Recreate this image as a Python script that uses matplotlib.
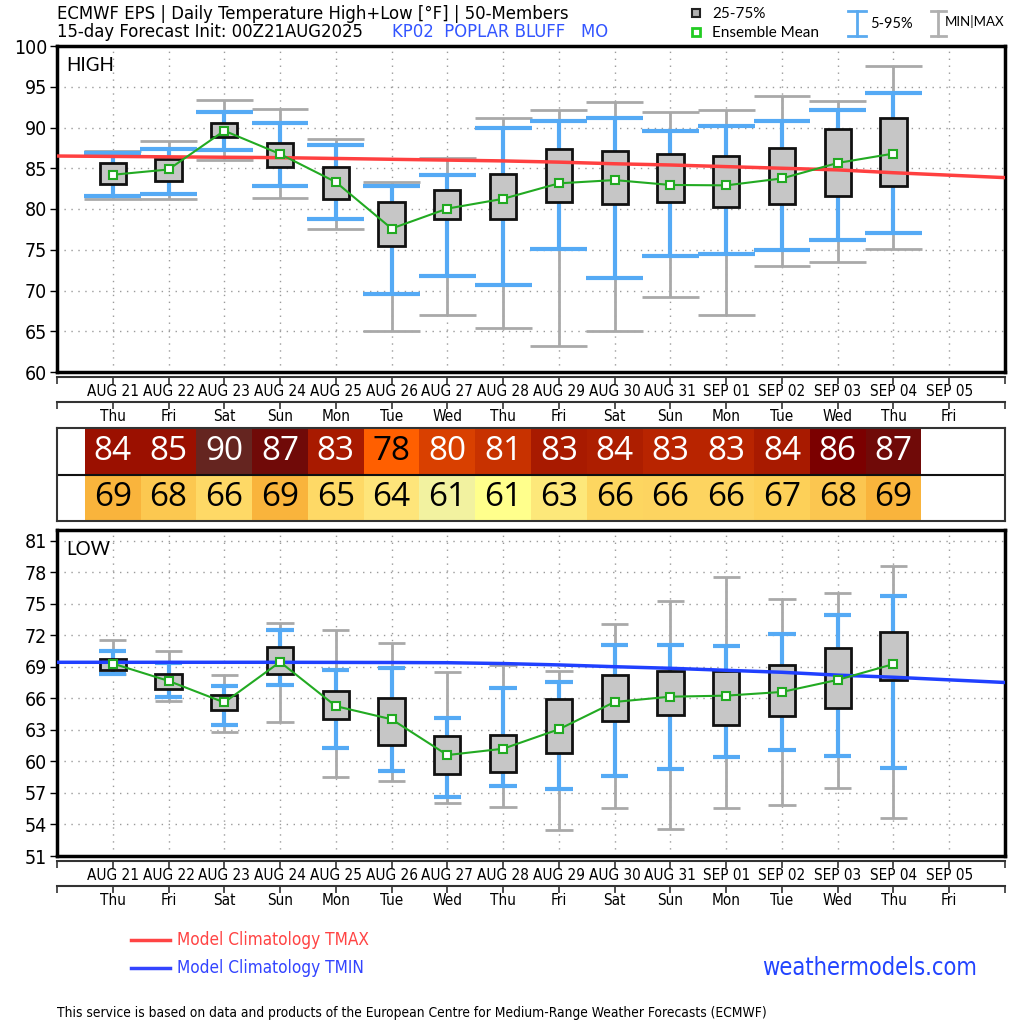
import matplotlib
matplotlib.use('Agg')
import matplotlib.pyplot as plt
import numpy as np
from matplotlib import font_manager
from matplotlib.font_manager import FontProperties
from matplotlib.patches import Rectangle

# --- data --------------------------------------------------------------------
dates = ['AUG 21', 'AUG 22', 'AUG 23', 'AUG 24', 'AUG 25', 'AUG 26', 'AUG 27', 'AUG 28',
         'AUG 29', 'AUG 30', 'AUG 31', 'SEP 01', 'SEP 02', 'SEP 03', 'SEP 04', 'SEP 05']
weekdays = ['Thu', 'Fri', 'Sat', 'Sun', 'Mon', 'Tue', 'Wed', 'Thu',
            'Fri', 'Sat', 'Sun', 'Mon', 'Tue', 'Wed', 'Thu', 'Fri']

# daily high temperature (15 forecast days)
hi_min = [81.2, 81.2, 86.0, 81.4, 77.6, 65.0, 67.0, 65.4, 63.25, 65.0, 69.25, 67.05, 73.05, 73.55, 75.15]
hi_p05 = [81.6, 81.85, 87.3, 82.85, 78.75, 69.6, 71.8, 70.65, 75.1, 71.5, 74.25, 74.45, 75.0, 76.15, 77.1]
hi_p25 = [83.1, 83.4, 88.8, 85.1, 81.2, 75.5, 78.8, 78.8, 80.8, 80.6, 80.8, 80.25, 80.6, 81.6, 82.8]
hi_mean = [84.2, 84.85, 89.6, 86.75, 83.3, 77.6, 80.05, 81.25, 83.15, 83.55, 82.95, 82.9, 83.75, 85.65, 86.8]
hi_p75 = [85.6, 86.15, 90.5, 88.15, 85.15, 80.8, 82.35, 84.35, 87.4, 87.15, 86.7, 86.55, 87.45, 89.8, 91.15]
hi_p95 = [86.9, 87.4, 91.95, 90.6, 87.85, 82.8, 84.15, 89.95, 90.8, 91.15, 89.6, 90.15, 90.85, 92.1, 94.25]
hi_max = [87.1, 88.3, 93.4, 92.25, 88.65, 83.3, 86.3, 91.15, 92.2, 93.1, 91.85, 92.1, 93.85, 93.2, 97.55]

# daily low temperature
lo_min = [68.3, 65.75, 62.75, 63.75, 58.5, 58.15, 56.05, 55.7, 53.5, 55.55, 53.55, 55.55, 55.85, 57.45, 54.6]
lo_p05 = [68.35, 66.1, 63.5, 67.25, 61.25, 59.05, 56.65, 57.65, 57.35, 58.6, 59.3, 60.4, 61.1, 60.55, 59.35]
lo_p25 = [68.7, 66.9, 64.9, 68.3, 64.0, 61.55, 58.8, 58.95, 60.8, 63.85, 64.45, 63.5, 64.3, 65.1, 67.75]
lo_mean = [69.3, 67.65, 65.6, 69.45, 65.25, 64.0, 60.6, 61.2, 63.05, 65.65, 66.15, 66.25, 66.6, 67.75, 69.25]
lo_p75 = [69.75, 68.3, 66.35, 70.85, 66.7, 66.0, 62.4, 62.55, 65.95, 68.25, 68.6, 68.6, 69.2, 70.75, 72.3]
lo_p95 = [70.5, 69.4, 67.15, 72.5, 68.7, 68.9, 64.1, 66.95, 67.55, 71.1, 71.1, 71.0, 72.1, 73.95, 75.7]
lo_max = [71.5, 70.45, 68.2, 73.2, 72.45, 71.3, 68.45, 69.2, 68.55, 73.05, 75.25, 77.55, 75.4, 76.0, 78.6]

# model climatology, day -1 .. 16 (full width of the panel)
clim_tmax = [86.5, 86.45, 86.4, 86.35, 86.3, 86.2, 86.1, 86.0, 85.9, 85.75, 85.55, 85.4,
             85.2, 85.0, 84.8, 84.45, 84.15, 83.85]
clim_tmin = [69.42, 69.42, 69.42, 69.42, 69.42, 69.41, 69.4, 69.38, 69.3, 69.17, 69.0, 68.85,
             68.66, 68.47, 68.2, 68.0, 67.75, 67.5]

# summary table
tbl_high = [84, 85, 90, 87, 83, 78, 80, 81, 83, 84, 83, 83, 84, 86, 87]
tbl_low = [69, 68, 66, 69, 65, 64, 61, 61, 63, 66, 66, 66, 67, 68, 69]

# table cell colours
high_colors = ['#9b1000', '#9b1000', '#652520', '#700a08', '#a81a00', '#ff5f00', '#d94000', '#c83200',
               '#a81a00', '#ad1e00', '#b82400', '#b82400', '#a81a00', '#7b0000', '#700a08']
high_text = ['white'] * 5 + ['black'] + ['white'] * 9
low_colors = ['#f9b43c', '#fcc850', '#fed966', '#f9b43c', '#fed966', '#fee57a', '#f2f2a0', '#ffff8c',
              '#fde87a', '#fdd660', '#fdd460', '#fdd460', '#fdd058', '#fbc650', '#f9b43c']


# --- fonts ---------------------------------------------------------------------
def find_narrow():
    for f in font_manager.fontManager.ttflist:
        if f.fname.endswith('DejaVuSansCondensed.ttf'):
            return f.fname
    for f in font_manager.fontManager.ttflist:
        if 'LiberationSansNarrow-Regular' in f.fname:
            return f.fname
    return None


NARROW = find_narrow()


def nfont(size):
    if NARROW:
        return FontProperties(fname=NARROW, size=size)
    return FontProperties(family='DejaVu Sans', size=size * 0.9)


def wfont(size, family='Lato'):
    return FontProperties(family=[family, 'DejaVu Sans'], size=size)


W = 1024.0
fig = plt.figure(figsize=(10.24, 10.24), dpi=100)


def px_axes(left, top, right, bottom, **kw):
    return fig.add_axes([left / W, 1 - bottom / W, (right - left) / W, (bottom - top) / W], **kw)


x = np.arange(len(hi_mean))
clim_x = np.arange(-1, 17)
XL, XR = 57, 1005


def draw_panel(top, bottom, ylim, yticks, lows, p05, p25, mean, p75, p95, highs,
               clim, clim_color, cap_w, label):
    ax = px_axes(XL, top, XR, bottom)
    ax.set_xlim(-1, 16)
    ax.set_ylim(*ylim)
    ax.set_xticks(np.arange(16))
    ax.tick_params(axis='x', length=0, labelbottom=False)
    ax.set_yticks(yticks)
    ax.tick_params(axis='y', direction='out', length=5, width=1, pad=2)
    for lab in ax.get_yticklabels():
        lab.set_fontproperties(nfont(14))
    ax.grid(True, color='#9a9a9a', linestyle=(0, (1, 4)), linewidth=1)
    ax.set_axisbelow(True)
    for sp in ax.spines.values():
        sp.set_linewidth(2.5)

    ax.vlines(x, lows, highs, color='#a9a9a9', lw=2, zorder=2)
    ax.hlines(lows, x - cap_w / 2, x + cap_w / 2, color='#a9a9a9', lw=2, zorder=2)
    ax.hlines(highs, x - cap_w / 2, x + cap_w / 2, color='#a9a9a9', lw=2, zorder=2)
    ax.vlines(x, p05, p95, color='#55aaf5', lw=3, zorder=3)
    ax.hlines(p05, x - cap_w / 2, x + cap_w / 2, color='#55aaf5', lw=3, zorder=3)
    ax.hlines(p95, x - cap_w / 2, x + cap_w / 2, color='#55aaf5', lw=3, zorder=3)
    box_h = np.array(p75) - np.array(p25)
    ax.bar(x, box_h, bottom=p25, width=0.47, color='#c6c6c6', edgecolor='#111111',
           linewidth=2, zorder=4)
    ax.plot(clim_x, clim, color=clim_color, lw=2.5, zorder=5)
    ax.plot(x, mean, color='#22aa22', lw=1.5, marker='s', ms=6, mfc='white',
            mec='#22aa22', mew=1.5, zorder=6)
    ax.text(0.01, 0.94, label, transform=ax.transAxes, ha='left', va='center',
            fontproperties=wfont(13.5))
    return ax


def date_axes(y):
    # two rows: dates, then weekdays, each with a tick line above
    for off, labels in [(0, dates), (25, weekdays)]:
        ax = px_axes(XL, y + off, XR, y + off + 4)
        ax.set_xlim(-1, 16)
        ax.set_ylim(0, 1)
        ax.set_xticks(np.arange(-1, 17))
        ax.set_xticklabels([''] + labels + [''])
        ax.tick_params(axis='x', top=True, bottom=False, labeltop=False, labelbottom=True,
                       direction='in', length=5, width=1.2, color='#333333', pad=2)
        for lab in ax.get_xticklabels():
            lab.set_fontproperties(nfont(11))
        ax.set_yticks([])
        for k, sp in ax.spines.items():
            sp.set_visible(k == 'top')
        ax.spines['top'].set_linewidth(1.5)
        ax.spines['top'].set_color('#333333')
        ax.patch.set_alpha(0)


draw_panel(46, 372, (60, 100), np.arange(60, 101, 5), hi_min, hi_p05, hi_p25, hi_mean,
           hi_p75, hi_p95, hi_max, clim_tmax, '#ff4040', 1.02, 'HIGH')
draw_panel(530, 856, (51, 82), np.arange(51, 82, 3), lo_min, lo_p05, lo_p25, lo_mean,
           lo_p75, lo_p95, lo_max, clim_tmin, '#2040ff', 0.49, 'LOW')
date_axes(377)
date_axes(861)

# table
tax = px_axes(XL, 428, XR, 521)
tax.set_xlim(-1, 16)
tax.set_ylim(0, 2)
tax.bar(x, 1, bottom=1, width=1, color=high_colors, zorder=1)
tax.bar(x, 1, bottom=0, width=1, color=low_colors, zorder=1)
for i in range(len(x)):
    tax.text(x[i], 1.5, str(tbl_high[i]), ha='center', va='center', color=high_text[i],
             fontproperties=wfont(24, 'Open Sans'), zorder=3)
    tax.text(x[i], 0.5, str(tbl_low[i]), ha='center', va='center', color='black',
             fontproperties=wfont(24, 'Open Sans'), zorder=3)
tax.axhline(1, color='#111111', lw=1.5, zorder=2)
tax.set_xticks([])
tax.set_yticks([])
for sp in tax.spines.values():
    sp.set_linewidth(1.5)
    sp.set_color('#333333')

# header / legends on an overlay in pixel coords
deco = fig.add_axes([0, 0, 1, 1], zorder=10)
deco.set_xlim(0, W)
deco.set_ylim(W, 0)
deco.axis('off')

deco.text(57, 14, 'ECMWF EPS | Daily Temperature High+Low [°F] | 50-Members', ha='left',
          va='center', fontproperties=nfont(13.2))
deco.text(57, 32, '15-day Forecast Init: 00Z21AUG2025', ha='left', va='center',
          fontproperties=nfont(13.2))
deco.text(392, 32, 'KP02  POPLAR BLUFF   MO', ha='left', va='center', color='#3355ff',
          fontproperties=nfont(13.2))

deco.add_patch(Rectangle((692, 9), 8, 8, facecolor='#b0b0b0', edgecolor='#222222', lw=1.5))
deco.text(712, 14, '25-75%', ha='left', va='center', fontproperties=wfont(11))
deco.add_patch(Rectangle((692, 28), 8, 8, facecolor='white', edgecolor='#22cc22', lw=2))
deco.text(712, 33, 'Ensemble Mean', ha='left', va='center', fontproperties=wfont(11))

deco.plot([857, 857], [11, 36], color='#5aaaf0', lw=2)
deco.plot([848, 866], [11, 11], color='#5aaaf0', lw=2)
deco.plot([848, 866], [36, 36], color='#5aaaf0', lw=2)
deco.text(870, 24, '5-95%', ha='left', va='center', fontproperties=wfont(10.5))
deco.plot([938, 938], [11, 36], color='#b0b0b0', lw=2)
deco.plot([931, 946], [11, 11], color='#b0b0b0', lw=2)
deco.plot([931, 946], [36, 36], color='#b0b0b0', lw=2)
deco.text(945, 22, 'MIN|MAX', ha='left', va='center', fontproperties=wfont(9.5))

deco.plot([131, 170], [940, 940], color='#ff4444', lw=2.5)
deco.text(177, 940, 'Model Climatology TMAX', ha='left', va='center', color='#ff4444',
          fontproperties=nfont(12.3))
deco.plot([131, 170], [968, 968], color='#3344ff', lw=2.5)
deco.text(177, 968, 'Model Climatology TMIN', ha='left', va='center', color='#3344ff',
          fontproperties=nfont(12.3))
deco.text(977, 968, 'weathermodels.com', ha='right', va='center', color='#2244ff',
          fontproperties=nfont(17))
deco.text(57, 1013, 'This service is based on data and products of the European Centre for '
          'Medium-Range Weather Forecasts (ECMWF)', ha='left', va='center',
          fontproperties=nfont(9.9))

fig.savefig('out.png', dpi=100)
